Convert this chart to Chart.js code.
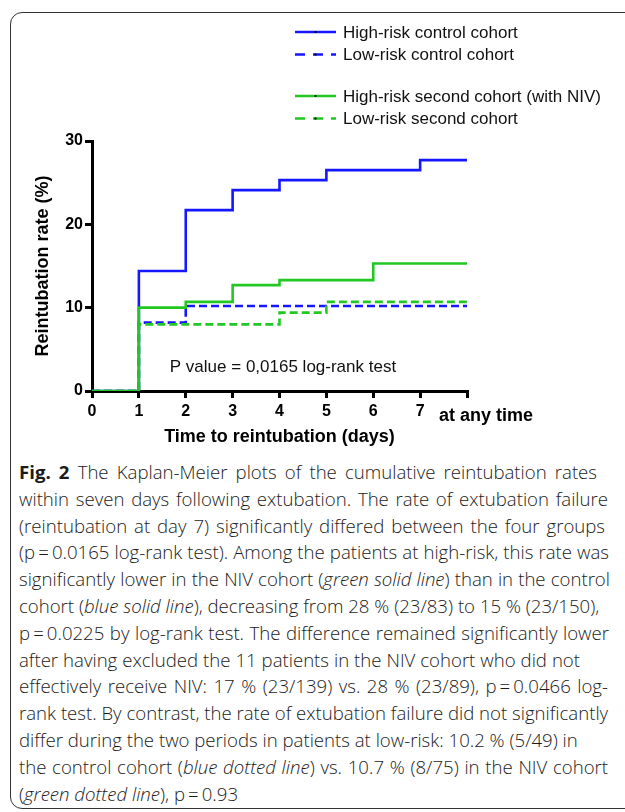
<!DOCTYPE html>
<html>
<head>
<meta charset="utf-8">
<script src="https://cdn.jsdelivr.net/npm/chart.js@4.4.1/dist/chart.umd.min.js"></script>
<style>
  html, body { margin: 0; padding: 0; background: #fff; }
  body { width: 625px; height: 812px; overflow: hidden; position: relative; }
  #frame { position: absolute; left: 10px; top: 12px; width: 650px; height: 797px;
           border: 1.5px solid #333; border-radius: 12px; box-sizing: border-box; }
  #chart1 { position: absolute; left: 0; top: 0; }
  #caption { position: absolute; left: 19px; top: 459px;
             font-family: "Open Sans", sans-serif; font-weight: 300; font-size: 18.6px; line-height: 26.8px; color: #1a1a1a; }
  #caption b { font-weight: 700; }
  #caption div { height: 26.8px; width: max-content; white-space: nowrap; }
  #caption .j { text-align: justify; text-align-last: justify; white-space: normal; }
</style>
</head>
<body>
<div id="frame"></div>
<canvas id="chart1" width="625" height="455"></canvas>
<div id="caption">
<div class="j" style="min-width:578px"><b>Fig. 2</b> The Kaplan-Meier plots of the cumulative reintubation rates</div>
<div class="j" style="min-width:589px">within seven days following extubation. The rate of extubation failure</div>
<div class="j" style="min-width:586px">(reintubation at day 7) significantly differed between the four groups</div>
<div class="j" style="min-width:590px">(p&thinsp;=&thinsp;0.0165 log-rank test). Among the patients at high-risk, this rate was</div>
<div class="j" style="min-width:591px">significantly lower in the NIV cohort (<i>green solid line</i>) than in the control</div>
<div class="j" style="min-width:573px">cohort (<i>blue solid line</i>), decreasing from 28 % (23/83) to 15 % (23/150),</div>
<div class="j" style="min-width:590px">p&thinsp;=&thinsp;0.0225 by log-rank test. The difference remained significantly lower</div>
<div class="j" style="min-width:561px">after having excluded the 11 patients in the NIV cohort who did not</div>
<div class="j" style="min-width:589px">effectively receive NIV: 17 % (23/139) vs. 28 % (23/89), p&thinsp;=&thinsp;0.0466 log-</div>
<div class="j" style="min-width:588px">rank test. By contrast, the rate of extubation failure did not significantly</div>
<div class="j" style="min-width:544px">differ during the two periods in patients at low-risk: 10.2 % (5/49) in</div>
<div class="j" style="min-width:589px">the control cohort (<i>blue dotted line</i>) vs. 10.7 % (8/75) in the NIV cohort</div>
<div>(<i>green dotted line</i>), p&thinsp;=&thinsp;0.93</div>
</div>
<script>
  // dias e taxas (%)
  var dias = [0, 1, 2, 3, 4, 5, 6, 7, 8]
  var altoControle = [0, 14.4, 21.7, 24.1, 25.3, 26.5, 26.5, 27.7, 27.7]
  var baixoControle = [0, 8.2, 10.2, 10.2, 10.2, 10.2, 10.2, 10.2, 10.2]
  var altoNIV = [0, 10.0, 10.7, 12.7, 13.3, 13.3, 15.3, 15.3, 15.3]
  var baixoNIV = [0, 8.0, 8.0, 8.0, 9.4, 10.7, 10.7, 10.7, 10.7]
  var yTicks = [0, 10, 20, 30]
  var xTicks = [0, 1, 2, 3, 4, 5, 6, 7]

  var nomes = [
    'High-risk control cohort',
    'Low-risk control cohort',
    'High-risk second cohort (with NIV)',
    'Low-risk second cohort'
  ]

  var azul = 'rgb(22, 22, 255)'
  var verde = 'rgb(34, 200, 34)'
  var tracejado = [8, 4]

  function pontos(valores) {
    return dias.map(function (d, i) { return { x: d, y: valores[i] } })
  }

  function serie(label, valores, cor, dash, ordem) {
    return {
      label: label,
      data: pontos(valores),
      borderColor: cor,
      borderWidth: 2.6,
      borderDash: dash,
      stepped: 'before',
      pointRadius: 0,
      fill: false,
      order: ordem
    }
  }

  const data = {
    datasets: [
      serie(nomes[0], altoControle, azul, [], 3),
      serie(nomes[1], baixoControle, azul, tracejado, 4),
      serie(nomes[2], altoNIV, verde, [], 1),
      serie(nomes[3], baixoNIV, verde, tracejado, 2)
    ]
  }

  // legenda, "at any time" e texto do p
  const extras = {
    id: 'extras',
    afterDraw: function (chart) {
      var c = chart.ctx
      var xs = chart.scales.x
      var ys = chart.scales.y
      c.save()

      var linhasY = [32, 54.5, 96, 118.5]
      chart.data.datasets.forEach(function (ds, i) {
        var y = linhasY[i]
        c.strokeStyle = ds.borderColor
        c.lineWidth = 2.6
        if (ds.borderDash.length) {
          c.setLineDash([10, 8])
        } else {
          c.setLineDash([])
        }
        c.beginPath()
        c.moveTo(295, y)
        c.lineTo(336, y)
        c.stroke()
        c.setLineDash([])
        c.fillStyle = '#000'
        c.fillRect(314.5, y - 1, 2, 2)
        c.fillStyle = '#111'
        c.font = '17px "Liberation Sans", Arial, sans-serif'
        c.textAlign = 'left'
        c.textBaseline = 'middle'
        c.fillText(ds.label, 343, y + 1)
      })

      c.fillStyle = '#000'
      c.font = 'bold 18px "Liberation Sans", Arial, sans-serif'
      c.textAlign = 'left'
      c.textBaseline = 'middle'
      c.fillText('at any time', xs.getPixelForValue(8) - 28, 416)

      c.font = '17px "Liberation Sans", Arial, sans-serif'
      c.fillStyle = '#111'
      c.fillText('P value = 0,0165 log-rank test', xs.getPixelForValue(1.66), ys.getPixelForValue(2.9))
      c.restore()
    }
  }

  const config = {
    type: 'line',
    data: data,
    options: {
      responsive: false,
      animation: false,
      layout: { padding: { top: 141, right: 158, left: 0, bottom: 0 } },
      plugins: { legend: { display: false }, tooltip: { enabled: false } },
      scales: {
        x: {
          type: 'linear',
          min: 0,
          max: 8,
          afterBuildTicks: function (s) { s.ticks = dias.map(function (d) { return { value: d } }) },
          afterFit: function (s) { s.height = 64 },
          ticks: {
            autoSkip: false,
            maxRotation: 0,
            padding: 4,
            color: '#000',
            font: { family: '"Liberation Sans", Arial, sans-serif', size: 16, weight: 'bold' },
            callback: function (v) { return xTicks.indexOf(v) >= 0 ? String(v) : '' }
          },
          grid: { drawOnChartArea: false, color: '#000', lineWidth: 3, tickLength: 7 },
          border: { color: '#000', width: 3 },
          title: {
            display: true,
            text: 'Time to reintubation (days)',
            color: '#000',
            font: { family: '"Liberation Sans", Arial, sans-serif', size: 18, weight: 'bold' },
            padding: { top: 0, bottom: 7 }
          }
        },
        y: {
          min: 0,
          max: 30,
          afterBuildTicks: function (s) { s.ticks = yTicks.map(function (v) { return { value: v } }) },
          afterFit: function (s) { s.width = 92 },
          ticks: {
            padding: 2,
            color: '#000',
            font: { family: '"Liberation Sans", Arial, sans-serif', size: 16, weight: 'bold' }
          },
          grid: { drawOnChartArea: false, color: '#000', lineWidth: 3, tickLength: 7 },
          border: { color: '#000', width: 3 },
          title: {
            display: true,
            text: 'Reintubation rate (%)',
            color: '#000',
            font: { family: '"Liberation Sans", Arial, sans-serif', size: 18, weight: 'bold' },
            padding: { top: 32, bottom: 0 }
          }
        }
      }
    },
    plugins: [extras]
  }

  const myChart = new Chart(document.getElementById('chart1'), config)
</script>
</body>
</html>
